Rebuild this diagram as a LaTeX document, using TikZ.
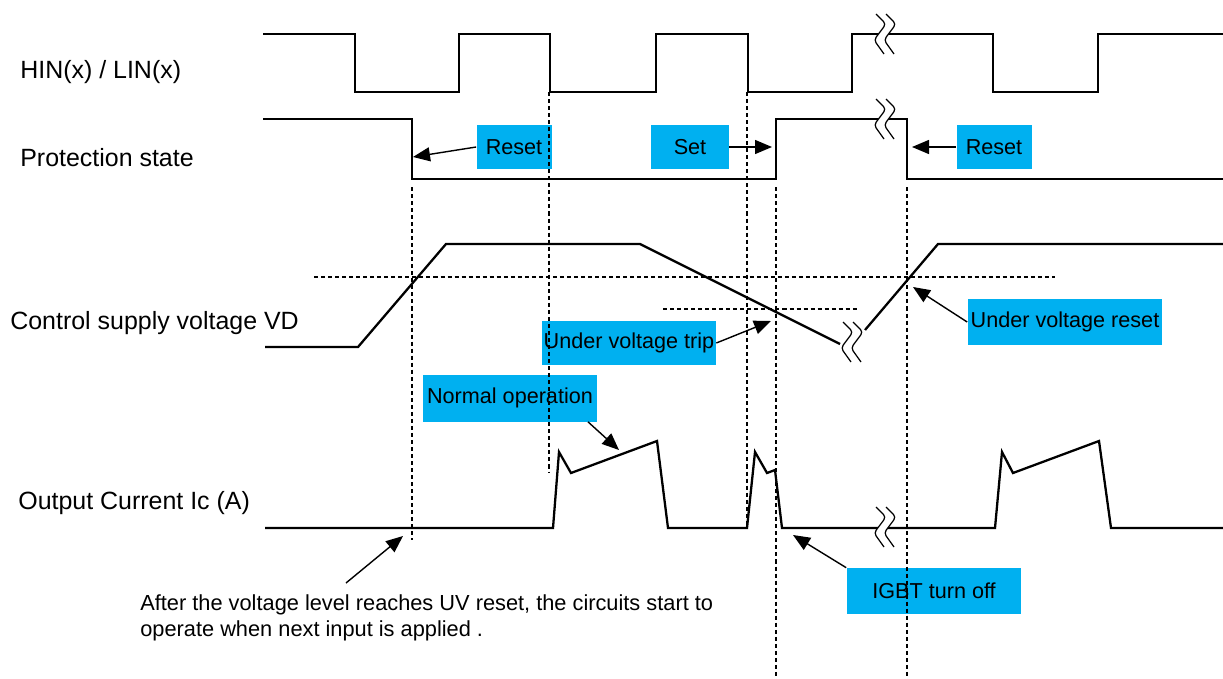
\documentclass[tikz,border=0pt]{standalone}
\usepackage{fontspec}
\setmainfont{Liberation Sans}
\usetikzlibrary{arrows.meta}
\definecolor{boxblue}{RGB}{0,176,240}
\begin{document}
\begin{tikzpicture}[x=0.02cm,y=-0.02cm,>={Triangle[length=3.4mm,width=2.8mm]},
 lab/.style={anchor=west,inner sep=0pt,font=\fontsize{14.2}{17}\selectfont},
 bx/.style={fill=boxblue,inner sep=0pt,minimum height=9mm,font=\fontsize{12.3}{15}\selectfont},
 w/.style={line width=1.3pt},
 g/.style={line width=0.6pt,dash pattern=on 2.3pt off 1.7pt},
 e/.style={->,line width=0.8pt},
 brk/.pic={
  \fill[white] (-4,-20) -- (6,-10) -- (-6,6) -- (4,20) -- (14,20) -- (4,6) -- (16,-10) -- (6,-20) -- cycle;
  \draw[line width=0.7pt,rounded corners=2pt] (-4,-20) -- (6,-10) -- (-6,6) -- (4,20)
   (6,-20) -- (16,-10) -- (4,6) -- (14,20);}]
\useasboundingbox (0,0) rectangle (1223,679);
\node[lab] (hin) at (20,72) {HIN(x) / LIN(x)};
\node[lab] (prot) at (20,158) {Protection state};
\node[lab] (vd) at (10,323) {Control supply voltage VD};
\node[lab] (ic) at (18,503) {Output Current Ic (A)};
\node[bx,minimum width=15mm] (rst1) at (514,147) {Reset};
\node[bx,minimum width=15.6mm] (set) at (690,147) {Set};
\node[bx,minimum width=15mm] (rst2) at (994,147) {Reset};
\node[bx,minimum width=34.8mm] (uvt) at (629,343) {Under voltage trip};
\node[bx,minimum width=39mm,minimum height=9.2mm] (uvr) at (1065,322) {Under voltage reset};
\node[bx,minimum width=34.8mm,minimum height=9.4mm] (nop) at (510,398) {Normal operation};
\node[bx,minimum width=35mm,minimum height=9.2mm] (igbt) at (934,591) {IGBT turn off};
\node[anchor=north west,inner sep=0pt,align=left,font=\fontsize{12.4}{14.8}\selectfont] (note) at (140,594)
 {After the voltage level reaches UV reset, the circuits start to\\operate when next input is applied .};
\draw[g] (314,277) -- (1055,277);
\draw[g] (663,309) -- (858,309);
\draw[g] (412,187) -- (412,540);
\draw[g] (549,92) -- (549,472);
\draw[g] (747,92) -- (747,527);
\draw[g] (776,187) -- (776,679);
\draw[g] (907,187) -- (907,679);
\draw[w] (263,34) -| (355,92) -| (459,34) -| (550,92) -| (656,34) -| (748,92) -| (852,34) -| (993,92) -| (1098,34) -- (1223,34);
\draw[w] (263,119) -| (412,179) -| (776,119) -| (907,179) -- (1223,179);
\draw[w] (265,347) -- (358,347) -- (446,244) -- (640,244) -- (840,344);
\draw[w] (865,330) -- (938,244) -- (1223,244);
\draw[w] (265,528) -- (553,528) -- (559,452) -- (571,473) -- (657,441) -- (668,528) -- (747,528)
 -- (755,452) -- (767,473) -- (775,470) -- (782,528) -- (995,528) -- (1002,452) -- (1013,473)
 -- (1099,441) -- (1111,528) -- (1223,528);
\pic at (880,34) {brk};
\pic at (880,119) {brk};
\pic at (847,342) {brk};
\pic at (880,527) {brk};
\coordinate (t1) at (413,157);
\coordinate (t2) at (772,147);
\coordinate (t3) at (912,147);
\coordinate (t4) at (771,321);
\coordinate (t5) at (913,287);
\coordinate (t6) at (619,450);
\coordinate (t7) at (793,535);
\coordinate (t8) at (403,536);
\coordinate (n1) at (346,583);
\draw[e] (rst1.west) -- (t1);
\draw[e] (set.east) -- (t2);
\draw[e] (rst2.west) -- (t3);
\draw[e] (uvt.east) -- (t4);
\draw[e] (uvr.west) -- (t5);
\draw[e] (nop.-17) -- (t6);
\draw[e] (igbt.north west) -- (t7);
\draw[e] (n1) -- (t8);
\end{tikzpicture}
\end{document}
